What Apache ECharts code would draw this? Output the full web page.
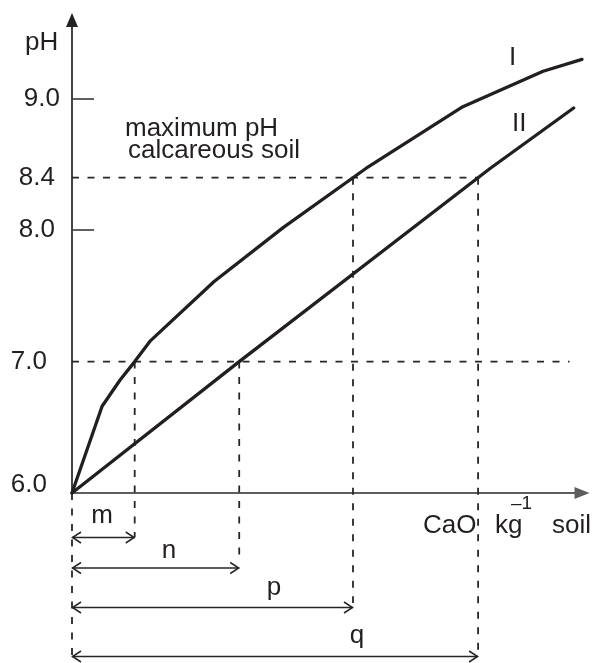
<!DOCTYPE html>
<html>
<head>
<meta charset="utf-8">
<title>pH vs CaO</title>
<script src="https://cdn.jsdelivr.net/npm/echarts@6/dist/echarts.min.js"></script>
<style>
  html, body { margin: 0; padding: 0; background: #fff; }
  #chart { width: 592px; height: 663px; }
</style>
</head>
<body>
<div id="chart"></div>
<script>
// pH axis labels and tick marks
const Y_LABELS = [6.0, 7.0, 8.0, 8.4, 9.0];
const Y_TICKS = [8.0, 9.0];

// Curve I: soil pH against CaO added (arbitrary CaO units)
const CURVE_I_X = [0, 0.72, 1.15, 1.5, 1.88, 3.4, 5.05, 7.03, 9.35, 11.27, 12.2];
const CURVE_I_Y = [6.0, 6.66, 6.86, 7.0, 7.16, 7.61, 8.02, 8.47, 8.94, 9.21, 9.30];

// Curve II
const CURVE_II_X = [0, 4, 10, 12.0];
const CURVE_II_Y = [6.0, 7.0, 8.47, 8.93];

// Reference pH levels: neutral and maximum for calcareous soil
const NEUTRAL_PH = 7.0;
const MAX_PH = 8.4;
const NEUTRAL_LINE_END = 11.9;

// Lime requirement spans: name, curve, target pH
const SPAN_NAMES = ['m', 'n', 'p', 'q'];
const SPAN_CURVES = ['I', 'II', 'I', 'II'];
const SPAN_LEVELS = [NEUTRAL_PH, NEUTRAL_PH, MAX_PH, MAX_PH];

const FONT = "'Liberation Sans', Arial, Helvetica, sans-serif";
const INK = '#231f20';
const GUIDE = '#262626';
const DASH = [7, 8.5];

// x where a polyline reaches a given pH
function crossing(xs, ys, level) {
  for (let i = 1; i < xs.length; i++) {
    if ((ys[i - 1] - level) * (ys[i] - level) <= 0 && ys[i] !== ys[i - 1]) {
      const t = (level - ys[i - 1]) / (ys[i] - ys[i - 1]);
      return xs[i - 1] + t * (xs[i] - xs[i - 1]);
    }
  }
  return xs[xs.length - 1];
}

const curves = {
  I: { x: CURVE_I_X, y: CURVE_I_Y },
  II: { x: CURVE_II_X, y: CURVE_II_Y }
};
const spanX = SPAN_NAMES.map((n, i) =>
  crossing(curves[SPAN_CURVES[i]].x, curves[SPAN_CURVES[i]].y, SPAN_LEVELS[i]));

// pixel layout of the dimension rows below the axis
const ROWS = [
  { row: 537.5, dashEnd: 537, labelX: 102, labelY: 516 },
  { row: 568, dashEnd: 560, labelX: 169, labelY: 551 },
  { row: 607.5, dashEnd: 603, labelX: 274, labelY: 588 },
  { row: 656.5, dashEnd: 657, labelX: 357, labelY: 636 }
];
const LEFT_DASH_END = 660;

const zip = (xs, ys) => xs.map((x, i) => [x, ys[i]]);

function labelKey(v) {
  if (v >= 8.95) return 'a';
  if (v >= 7.95) return 'b';
  if (v >= 6.95) return 'c';
  return 'd';
}
const labelBase = { fontSize: 26, fontFamily: FONT, color: INK };

const chart = echarts.init(document.getElementById('chart'), null, { renderer: 'canvas' });

const text = (str, x, y, opts = {}) => ({
  type: 'text',
  x, y,
  style: Object.assign({
    text: str,
    fontSize: 26,
    fontFamily: FONT,
    fill: INK,
    align: 'left',
    verticalAlign: 'middle'
  }, opts)
});

chart.setOption({
  animation: false,
  backgroundColor: '#fff',
  grid: { left: 72, right: 10, top: 20, bottom: 170, containLabel: false },
  xAxis: {
    type: 'value',
    min: 0,
    max: 12.2,
    axisLine: {
      show: true,
      symbol: ['none', 'triangle'],
      symbolSize: [12, 15],
      lineStyle: { color: '#5e5e5e', width: 2 }
    },
    axisTick: { show: false },
    axisLabel: { show: false },
    splitLine: { show: false }
  },
  yAxis: {
    type: 'value',
    min: 6,
    max: 9.6,
    axisLine: {
      show: true,
      symbol: ['none', 'triangle'],
      symbolSize: [12, 14],
      lineStyle: { color: '#222', width: 1.7 }
    },
    axisTick: {
      show: true,
      inside: true,
      length: 22,
      customValues: Y_TICKS,
      lineStyle: { color: '#444', width: 1.7 }
    },
    axisLabel: {
      show: true,
      customValues: Y_LABELS,
      margin: 12,
      fontSize: 26,
      fontFamily: FONT,
      color: INK,
      formatter: v => '{' + labelKey(v) + '|' + v.toFixed(1) + '}',
      rich: {
        a: Object.assign({ padding: [0, 0, 0, 0] }, labelBase),
        b: Object.assign({ padding: [0, 5, 0, 0] }, labelBase),
        c: Object.assign({ padding: [0, 13, 0, 0] }, labelBase),
        d: Object.assign({ padding: [0, 13, 16, 0] }, labelBase)
      }
    },
    splitLine: { show: false }
  },
  series: [
    {
      name: 'neutral pH',
      type: 'line',
      data: [[0, NEUTRAL_PH], [NEUTRAL_LINE_END, NEUTRAL_PH]],
      symbol: 'none',
      silent: true,
      z: 1,
      lineStyle: { color: GUIDE, width: 1.8, type: DASH }
    },
    {
      name: 'maximum pH',
      type: 'line',
      data: [[0, MAX_PH], [spanX[3], MAX_PH]],
      symbol: 'none',
      silent: true,
      z: 1,
      lineStyle: { color: GUIDE, width: 1.8, type: DASH }
    },
    {
      name: 'spans',
      type: 'custom',
      coordinateSystem: 'cartesian2d',
      clip: false,
      silent: true,
      z: 1,
      data: spanX.map((x, i) => [x, SPAN_LEVELS[i], i]),
      renderItem(params, api) {
        const i = api.value(2);
        const top = api.coord([api.value(0), api.value(1)]);
        const origin = api.coord([0, 6]);
        const L = ROWS[i];
        const lineStyle = { stroke: '#262626', lineWidth: 1.5, fill: null };
        const x0 = origin[0], x1 = top[0], y = L.row;
        const children = [
          {
            type: 'line',
            shape: { x1: x1, y1: top[1], x2: x1, y2: L.dashEnd },
            style: { stroke: GUIDE, lineWidth: 1.8, lineDash: DASH }
          },
          { type: 'line', shape: { x1: x0, y1: y, x2: x1, y2: y }, style: lineStyle },
          { type: 'polyline', shape: { points: [[x0 + 9, y - 5.5], [x0 + 0.5, y], [x0 + 9, y + 5.5]] }, style: lineStyle },
          { type: 'polyline', shape: { points: [[x1 - 9, y - 5.5], [x1 - 0.5, y], [x1 - 9, y + 5.5]] }, style: lineStyle },
          {
            type: 'text',
            x: L.labelX, y: L.labelY,
            style: {
              text: SPAN_NAMES[i], fontSize: 26, fontFamily: FONT, fill: INK,
              align: 'center', verticalAlign: 'middle'
            }
          }
        ];
        if (i === 0) {
          children.push({
            type: 'line',
            shape: { x1: x0, y1: origin[1], x2: x0, y2: LEFT_DASH_END },
            style: { stroke: GUIDE, lineWidth: 1.8, lineDash: DASH }
          });
        }
        return { type: 'group', children };
      }
    },
    {
      name: 'I',
      type: 'line',
      data: zip(CURVE_I_X, CURVE_I_Y),
      symbol: 'none',
      z: 3,
      lineStyle: { color: INK, width: 3.3, cap: 'round', join: 'round' }
    },
    {
      name: 'II',
      type: 'line',
      data: zip(CURVE_II_X, CURVE_II_Y),
      symbol: 'none',
      z: 3,
      lineStyle: { color: INK, width: 3.3, cap: 'round', join: 'round' }
    }
  ],
  graphic: [
    text('pH', 25, 43),
    text('maximum pH', 125, 129),
    text('calcareous soil', 128, 151),
    text('I', 509, 58),
    text('II', 512, 124),
    text('CaO', 423, 526),
    text('kg', 495, 526),
    text('\u20131', 511, 504, { fontSize: 19 }),
    text('soil', 552, 526)
  ]
});
</script>
</body>
</html>
